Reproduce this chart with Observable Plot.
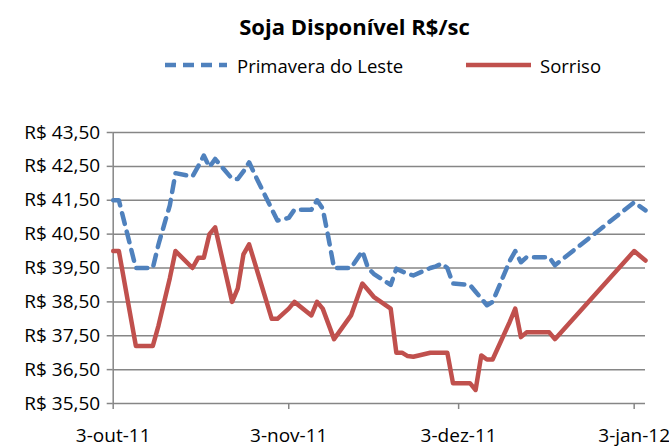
<!DOCTYPE html>
<html>
<head>
<meta charset="utf-8">
<script src="https://cdn.jsdelivr.net/npm/d3@7"></script>
<script src="https://cdn.jsdelivr.net/npm/@observablehq/plot@0.6"></script>
<style>
  html, body { margin: 0; padding: 0; background: #fff; }
  #wrap { position: relative; width: 669px; height: 448px; font-family: "Open Sans", sans-serif; color: #000; overflow: hidden; }
  #title { position: absolute; left: 0; width: 669px; top: 11px; text-align: center; padding-left: 40px; box-sizing: border-box; font-weight: bold; font-size: 22px; line-height: 30px; }
  .leg { position: absolute; top: 52px; height: 26px; display: flex; align-items: center; font-size: 18.5px; }
  .leg svg { margin-right: 8px; }
  #chart { position: absolute; left: 0; top: 95px; }
</style>
</head>
<body>
<div id="wrap">
  <div id="title">Soja Disponível R$/sc</div>
  <div class="leg" style="left:163px"><svg width="66" height="10"><line x1="2" y1="5" x2="64" y2="5" stroke="#4F81BD" stroke-width="4.5" stroke-dasharray="11,7" stroke-linecap="butt"/></svg><span>Primavera do Leste</span></div>
  <div class="leg" style="left:466px"><svg width="66" height="10"><line x1="0" y1="5" x2="65" y2="5" stroke="#C0504D" stroke-width="4.5"/></svg><span>Sorriso</span></div>
  <div id="chart"></div>
</div>
<script>
const seriesNames = ["Primavera do Leste", "Sorriso"];
const dates = ["2011-10-03","2011-10-04","2011-10-07","2011-10-10","2011-10-11","2011-10-13","2011-10-14","2011-10-17","2011-10-18","2011-10-19","2011-10-20","2011-10-21","2011-10-24","2011-10-25","2011-10-26","2011-10-27","2011-10-28","2011-10-31","2011-11-01","2011-11-03","2011-11-04","2011-11-07","2011-11-08","2011-11-09","2011-11-10","2011-11-11","2011-11-14","2011-11-16","2011-11-17","2011-11-18","2011-11-21","2011-11-22","2011-11-23","2011-11-24","2011-11-25","2011-11-28","2011-11-29","2011-11-30","2011-12-01","2011-12-02","2011-12-05","2011-12-06","2011-12-07","2011-12-08","2011-12-09","2011-12-12","2011-12-13","2011-12-14","2011-12-15","2011-12-16","2011-12-19","2011-12-20","2012-01-03","2012-01-05"];
const primavera = [41.5,41.5,39.5,39.5,40.2,41.35,42.3,42.2,42.5,42.82,42.48,42.72,42.13,42.13,42.35,42.62,42.26,41.24,40.9,40.98,41.22,41.22,41.5,41.25,40.4,39.5,39.5,40.0,39.5,39.33,39.0,39.48,39.4,39.33,39.28,39.5,39.55,39.63,39.5,39.04,39.0,38.8,38.6,38.4,38.5,39.7,40.0,39.67,39.82,39.82,39.82,39.58,41.44,41.2];
const sorriso = [40.0,40.0,37.2,37.2,37.8,39.2,40.0,39.5,39.8,39.8,40.5,40.7,38.5,38.9,39.9,40.2,39.65,38.0,38.0,38.3,38.5,38.1,38.5,38.3,37.85,37.4,38.1,39.04,38.85,38.65,38.3,37.0,37.0,36.9,36.88,37.0,37.0,37.0,37.0,36.1,36.1,35.9,36.92,36.8,36.8,37.9,38.3,37.46,37.6,37.6,37.6,37.4,40.0,39.72];
const yTicks = [35.5,36.5,37.5,38.5,39.5,40.5,41.5,42.5,43.5];
const xTickDates = ["2011-10-03","2011-11-03","2011-12-03","2012-01-03"];
const xTickLabels = ["3-out-11","3-nov-11","3-dez-11","3-jan-12"];

const parse = d3.utcParse("%Y-%m-%d");
const rows = [];
dates.forEach((d, i) => {
  rows.push({date: parse(d), value: primavera[i], series: seriesNames[0]});
  rows.push({date: parse(d), value: sorriso[i], series: seriesNames[1]});
});
const xTicks = xTickDates.map(parse);
const labelOf = new Map(xTicks.map((t, i) => [+t, xTickLabels[i]]));
const grid = "#868686";

const chart = Plot.plot({
  width: 669,
  height: 353,
  marginLeft: 112.7,
  marginRight: 24,
  marginTop: 37,
  marginBottom: 45,
  style: {fontFamily: "Open Sans, sans-serif", fontSize: "19px", color: "#000", background: "transparent", overflow: "visible"},
  x: {type: "utc", domain: [parse("2011-10-03"), parse("2012-01-05")]},
  y: {domain: [35.5, 43.5]},
  marks: [
    Plot.gridY(yTicks, {stroke: grid, strokeOpacity: 1, strokeWidth: 1.5}),
    Plot.ruleX([parse("2011-10-03")], {stroke: grid, strokeWidth: 1.5}),
    Plot.axisY({ticks: yTicks, tickSize: 6, tickPadding: 7, stroke: grid, strokeWidth: 1.5, tickFormat: d => "R$ " + d.toFixed(2).replace(".", ","), label: null, fontSize: 19}),
    Plot.axisX({ticks: xTicks, tickSize: 6, tickPadding: 19, stroke: grid, strokeWidth: 1.5, tickFormat: d => labelOf.get(+d), label: null, fontSize: 19}),
    Plot.line(rows.filter(r => r.series === seriesNames[1]), {x: "date", y: "value", stroke: "#C0504D", strokeWidth: 4.5, strokeLinejoin: "round", strokeLinecap: "round"}),
    Plot.line(rows.filter(r => r.series === seriesNames[0]), {x: "date", y: "value", stroke: "#4F81BD", strokeWidth: 4.5, strokeDasharray: "11,8", strokeLinejoin: "round", strokeLinecap: "round"})
  ]
});
document.getElementById("chart").appendChild(chart);
</script>
</body>
</html>
